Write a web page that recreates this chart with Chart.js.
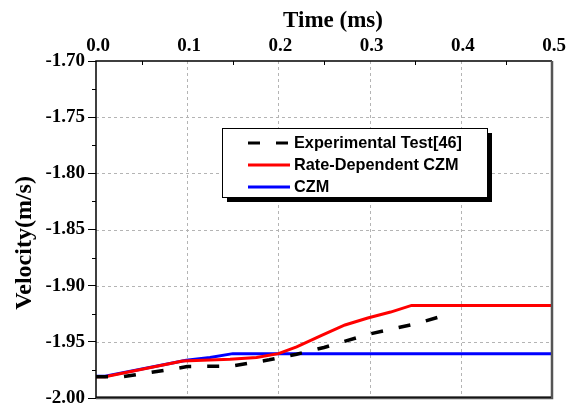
<!DOCTYPE html>
<html>
<head>
<meta charset="utf-8">
<script src="https://cdn.jsdelivr.net/npm/chart.js@4/dist/chart.umd.min.js"></script>
<style>
html,body{margin:0;padding:0;background:#fff;}
#wrap{width:571px;height:405px;}
</style>
</head>
<body>
<div id="wrap"><canvas id="c" width="571" height="405"></canvas></div>
<script>
const xTicks = [0.0, 0.1, 0.2, 0.3, 0.4, 0.5];
const yTicks = [-2.00, -1.95, -1.90, -1.85, -1.80, -1.75, -1.70];
const xTitle = 'Time (ms)';
const yTitle = 'Velocity(m/s)';

const expTime = [0.0, 0.03, 0.09, 0.10, 0.15, 0.19, 0.22, 0.25, 0.30, 0.35, 0.38];
const expVel  = [-1.981, -1.981, -1.9735, -1.972, -1.9715, -1.966, -1.961, -1.955, -1.943, -1.934, -1.927];

const rdTime = [0.0, 0.01, 0.095, 0.147, 0.176, 0.20, 0.22, 0.248, 0.273, 0.298, 0.323, 0.346, 0.5];
const rdVel  = [-1.981, -1.981, -1.967, -1.9655, -1.964, -1.9605, -1.9545, -1.944, -1.935, -1.9288, -1.9235, -1.9176, -1.9176];

const czmTime = [0.0, 0.01, 0.099, 0.125, 0.15, 0.5];
const czmVel  = [-1.9806, -1.9806, -1.9664, -1.964, -1.9605, -1.9605];

const seriesLabels = ['Experimental Test[46]', 'Rate-Dependent CZM', 'CZM'];

function pts(t, v){ return t.map((x,i)=>({x:x, y:v[i]})); }

const PAD = {left:0, top:0, right:19, bottom:7};
const PLOT_LEFT = 96, PLOT_TOP = 61;
const SERIF = '"Liberation Serif","Times New Roman",serif';

const gridPlugin = {
  id:'dashgrid',
  beforeDatasetsDraw(chart){
    const {ctx, chartArea:a, scales} = chart;
    ctx.save();
    ctx.strokeStyle = '#b4b4b4'; ctx.lineWidth = 1; ctx.setLineDash([3,3]);
    xTicks.slice(1,-1).forEach(v=>{
      const x = Math.round(scales.x.getPixelForValue(v))+0.5;
      ctx.beginPath(); ctx.moveTo(x,a.top); ctx.lineTo(x,a.bottom); ctx.stroke();
    });
    yTicks.slice(1,-1).forEach(v=>{
      const y = Math.round(scales.y.getPixelForValue(v))+0.5;
      ctx.beginPath(); ctx.moveTo(a.left,y); ctx.lineTo(a.right,y); ctx.stroke();
    });
    ctx.restore();
  }
};

const framePlugin = {
  id:'frame',
  afterDatasetsDraw(chart){
    const {ctx, chartArea:a, scales} = chart;
    ctx.save();
    // minor ticks
    ctx.strokeStyle = '#000'; ctx.lineWidth = 1;
    for (let i=0;i<yTicks.length-1;i++){
      const v = (yTicks[i]+yTicks[i+1])/2;
      const y = Math.round(scales.y.getPixelForValue(v))+0.5;
      ctx.beginPath(); ctx.moveTo(a.left-4,y); ctx.lineTo(a.left,y); ctx.stroke();
    }
    for (let i=0;i<xTicks.length-1;i++){
      const v = (xTicks[i]+xTicks[i+1])/2;
      const x = Math.round(scales.x.getPixelForValue(v))+0.5;
      ctx.beginPath(); ctx.moveTo(x,a.top); ctx.lineTo(x,a.top+4); ctx.stroke();
    }
    // frame
    ctx.strokeStyle = '#000'; ctx.lineWidth = 1.5;
    ctx.beginPath(); ctx.moveTo(a.left,a.bottom); ctx.lineTo(a.left,a.top); ctx.lineTo(a.right,a.top); ctx.stroke();
    ctx.strokeStyle = '#555'; ctx.lineWidth = 2.5;
    ctx.beginPath(); ctx.moveTo(a.right,a.top); ctx.lineTo(a.right,a.bottom); ctx.lineTo(a.left,a.bottom); ctx.stroke();
    ctx.strokeStyle = '#000'; ctx.lineWidth = 1.2;
    ctx.beginPath(); ctx.moveTo(a.left,a.bottom-0.8); ctx.lineTo(a.right-1,a.bottom-0.8); ctx.stroke();

    // axis titles
    ctx.fillStyle = '#000';
    ctx.font = 'bold 23px ' + SERIF;
    ctx.textAlign = 'center'; ctx.textBaseline = 'middle';
    ctx.fillText(xTitle, 333, 21);
    ctx.save();
    ctx.translate(25, 243);
    ctx.rotate(-Math.PI/2);
    ctx.font = 'bold 24px ' + SERIF;
    ctx.fillText(yTitle, 0, 0);
    ctx.restore();

    // legend
    const bx=222, by=128, bw=265, bh=69;
    ctx.fillStyle='#000';
    ctx.fillRect(bx+5, by+5, bw, bh);
    ctx.fillStyle='#fff';
    ctx.fillRect(bx, by, bw, bh);
    ctx.strokeStyle='#000'; ctx.lineWidth=1;
    ctx.strokeRect(bx+0.5, by+0.5, bw, bh);
    const rows=[143,165,187];
    ctx.font='bold 16.3px "Liberation Sans", Arial, sans-serif';
    ctx.textBaseline='middle'; ctx.textAlign='left';
    chart.data.datasets.forEach((ds,i)=>{
      const y=rows[i];
      ctx.strokeStyle=ds.borderColor; ctx.lineWidth=3;
      ctx.setLineDash(ds.borderDash||[]);
      ctx.beginPath(); ctx.moveTo(248,y); ctx.lineTo(290,y); ctx.stroke();
      ctx.setLineDash([]);
      ctx.fillStyle='#000';
      ctx.fillText(ds.label, 294, y+1);
    });
    ctx.restore();
  }
};

new Chart(document.getElementById('c'), {
  type:'line',
  data:{
    datasets:[
      {label:seriesLabels[0], data:pts(expTime,expVel), borderColor:'#000', borderWidth:3.5, borderDash:[12,16], pointRadius:0, tension:0, fill:false},
      {label:seriesLabels[1], data:pts(rdTime,rdVel), borderColor:'#ff0000', borderWidth:3, pointRadius:0, tension:0, fill:false},
      {label:seriesLabels[2], data:pts(czmTime,czmVel), borderColor:'#0000ff', borderWidth:3, pointRadius:0, tension:0, fill:false}
    ]
  },
  options:{
    responsive:false, animation:false, devicePixelRatio:1,
    layout:{padding:PAD},
    plugins:{legend:{display:false}, tooltip:{enabled:false}},
    scales:{
      x:{
        type:'linear', position:'top', min:0, max:0.5,
        afterBuildTicks(s){ s.ticks = xTicks.map(v=>({value:v})); },
        afterFit(s){ s.height = PLOT_TOP - PAD.top; s.paddingLeft = 0; s.paddingRight = 0; },
        ticks:{
          color:'#000', padding:4, maxRotation:0, labelOffset:2,
          font:{family:SERIF, weight:'bold', size:19},
          callback:v=>Number(v).toFixed(1)
        },
        grid:{drawOnChartArea:false, drawTicks:false},
        border:{display:false},
        title:{display:false}
      },
      y:{
        type:'linear', min:-2.0, max:-1.7,
        afterBuildTicks(s){ s.ticks = yTicks.map(v=>({value:v})); },
        afterFit(s){ s.width = PLOT_LEFT - PAD.left; s.paddingTop = 0; s.paddingBottom = 0; },
        ticks:{
          color:'#000', padding:3,
          font:{family:SERIF, weight:'bold', size:19},
          callback:v=>Number(v).toFixed(2)
        },
        grid:{drawOnChartArea:false, color:'#000', tickColor:'#000', tickLength:8, lineWidth:1},
        border:{display:false},
        title:{display:false}
      }
    }
  },
  plugins:[gridPlugin, framePlugin]
});
</script>
</body>
</html>
